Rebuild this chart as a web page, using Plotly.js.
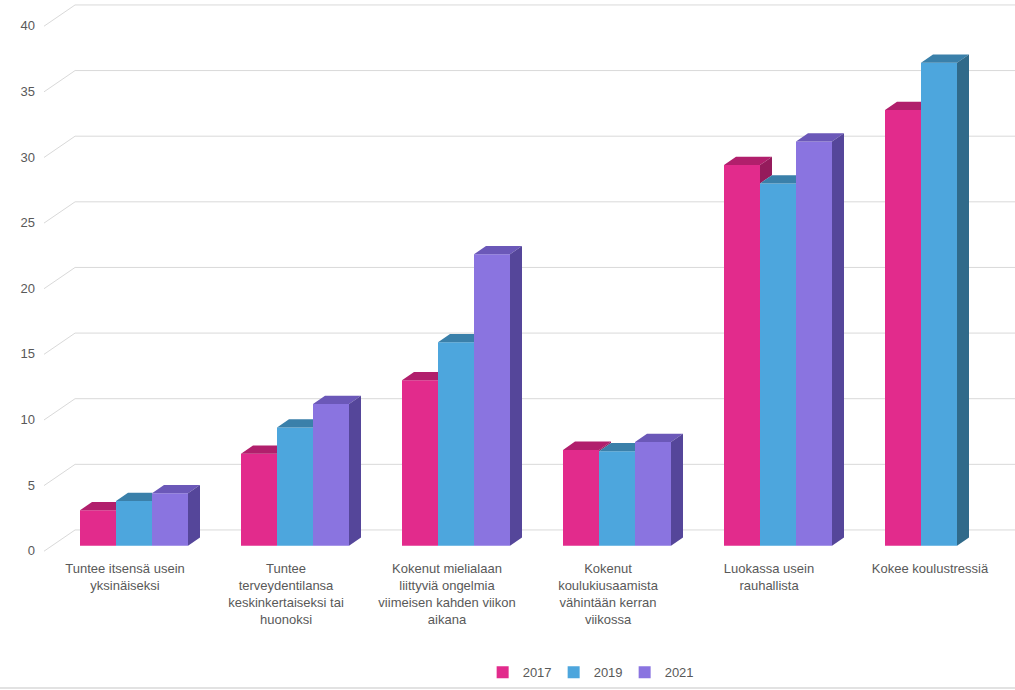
<!DOCTYPE html>
<html><head><meta charset="utf-8">
<script src="https://cdn.plot.ly/plotly-3.0.1.min.js"></script>
<style>html,body{margin:0;padding:0;background:#fff}#chart{width:1015px;height:690px}</style>
</head><body><div id="chart"></div>
<script>
// ---- data ----
const categories = [
  'Tuntee itsensä usein<br>yksinäiseksi',
  'Tuntee<br>terveydentilansa<br>keskinkertaiseksi tai<br>huonoksi',
  'Kokenut mielialaan<br>liittyviä ongelmia<br>viimeisen kahden viikon<br>aikana',
  'Kokenut<br>koulukiusaamista<br>vähintään kerran<br>viikossa',
  'Luokassa usein<br>rauhallista',
  'Kokee koulustressiä'
];
const years = ['2017', '2019', '2021'];
const values2017 = [2.7, 7.0, 12.6, 7.3, 29.0, 33.2];
const values2019 = [3.4, 9.0, 15.5, 7.2, 27.6, 36.8];
const values2021 = [4.0, 10.8, 22.2, 7.9, 30.8, null];
const yTicks = [0, 5, 10, 15, 20, 25, 30, 35, 40];

// ---- styles ----
const frontColors = ['#E22B8C', '#4DA6DD', '#8A74E0'];
const topColors   = ['#B11F6C', '#3A80AA', '#6B58B8'];
const sideColors  = ['#951B5C', '#306A8A', '#55469A'];
const PX_X = 161, PX_Y = 13.125;     // pixels per x unit / y unit
const BAR_W = 36 / PX_X;             // bar width (x units)
const DX = 12 / PX_X, DY = 8.3 / PX_Y; // bar depth projection
const WALL_FRONT_X = -0.559, WALL_BACK_X = -0.366, WALL_FRONT_DY = -0.42, WALL_BACK_DY = 1.2;
const LABEL_SHIFT = -9 / PX_X;
const X_RANGE = [(40 - 134) / PX_X, (1015 - 134) / PX_X];
const Y_RANGE = [-(556 - 545.7) / PX_Y, 545.7 / PX_Y];

const series = [values2017, values2019, values2021];
const idx = categories.map((_, i) => i);
const offsets = years.map((_, k) => -1.5 * BAR_W + k * BAR_W);

const traces = [];
// front faces as real bars
series.forEach((vals, k) => {
  traces.push({
    type: 'bar', name: years[k], x: idx, y: vals,
    width: BAR_W, offset: offsets[k],
    marker: {color: frontColors[k], line: {width: 0}},
    hovertemplate: '%{y}<extra>' + years[k] + '</extra>'
  });
});
// top and side faces derived from the same values
series.forEach((vals, k) => {
  const tx = [], ty = [], sx = [], sy = [];
  vals.forEach((v, i) => {
    if (v == null) return;
    const L = i + offsets[k], R = L + BAR_W;
    const nextSeries = series[k + 1];
    const hk = (nextSeries && nextSeries[i] != null) ? nextSeries[i] : 0;
    if (hk < v) {
      sx.push(R, R, R + DX, R + DX, null);
      sy.push(hk, v, v + DY, hk + DY, null);
    }
    const c = hk > v ? Math.min(hk - v, DY) : 0;
    tx.push(L, R, R, R + DX * (DY - c) / DY, L + DX, null);
    ty.push(v, v, v + c, v + DY, v + DY, null);
  });
  traces.push({type: 'scatter', mode: 'lines', x: tx, y: ty, fill: 'toself',
    fillcolor: topColors[k], line: {width: 0, color: topColors[k]},
    hoverinfo: 'skip', showlegend: false});
  traces.push({type: 'scatter', mode: 'lines', x: sx, y: sy, fill: 'toself',
    fillcolor: sideColors[k], line: {width: 0, color: sideColors[k]},
    hoverinfo: 'skip', showlegend: false});
});

// back-wall gridlines in perspective
const shapes = yTicks.map(v => ({
  type: 'path', layer: 'below', xref: 'x', yref: 'y',
  path: `M${WALL_FRONT_X},${v + WALL_FRONT_DY} L${WALL_BACK_X},${v + WALL_BACK_DY} L${X_RANGE[1]},${v + WALL_BACK_DY}`,
  line: {color: '#D9D9D9', width: 1}
}));
shapes.push({type: 'line', xref: 'paper', yref: 'paper', x0: -40 / 975, x1: 1, y0: -(688 - 556) / 556, y1: -(688 - 556) / 556,
  line: {color: '#D9D9D9', width: 1.5}});

const layout = {
  width: 1015, height: 690,
  margin: {l: 40, r: 0, t: 0, b: 134},
  paper_bgcolor: '#fff', plot_bgcolor: '#fff',
  font: {family: '"Liberation Sans", Arial, sans-serif', size: 13, color: '#595959'},
  barmode: 'overlay',
  showlegend: true,
  legend: {orientation: 'h', x: 0.454, xanchor: 'left', y: -0.209, yanchor: 'middle',
    font: {size: 13, color: '#595959'}, itemwidth: 30, traceorder: 'normal',
    entrywidth: 26, entrywidthmode: 'pixels'},
  xaxis: {range: X_RANGE, tickvals: idx.map(i => i + LABEL_SHIFT), ticktext: categories,
    showgrid: false, zeroline: false, showline: false, ticks: '', fixedrange: true,
    tickfont: {size: 13, color: '#595959'}, ticklabelstandoff: 3},
  yaxis: {range: Y_RANGE, tickvals: yTicks, showgrid: false, zeroline: false, showline: false,
    ticks: '', fixedrange: true, tickfont: {size: 13, color: '#595959'},
    ticklabelstandoff: 4, ticklabelshift: 5},
  shapes: shapes
};
Plotly.newPlot('chart', traces, layout, {displayModeBar: false, staticPlot: true});
</script>
</body></html>
